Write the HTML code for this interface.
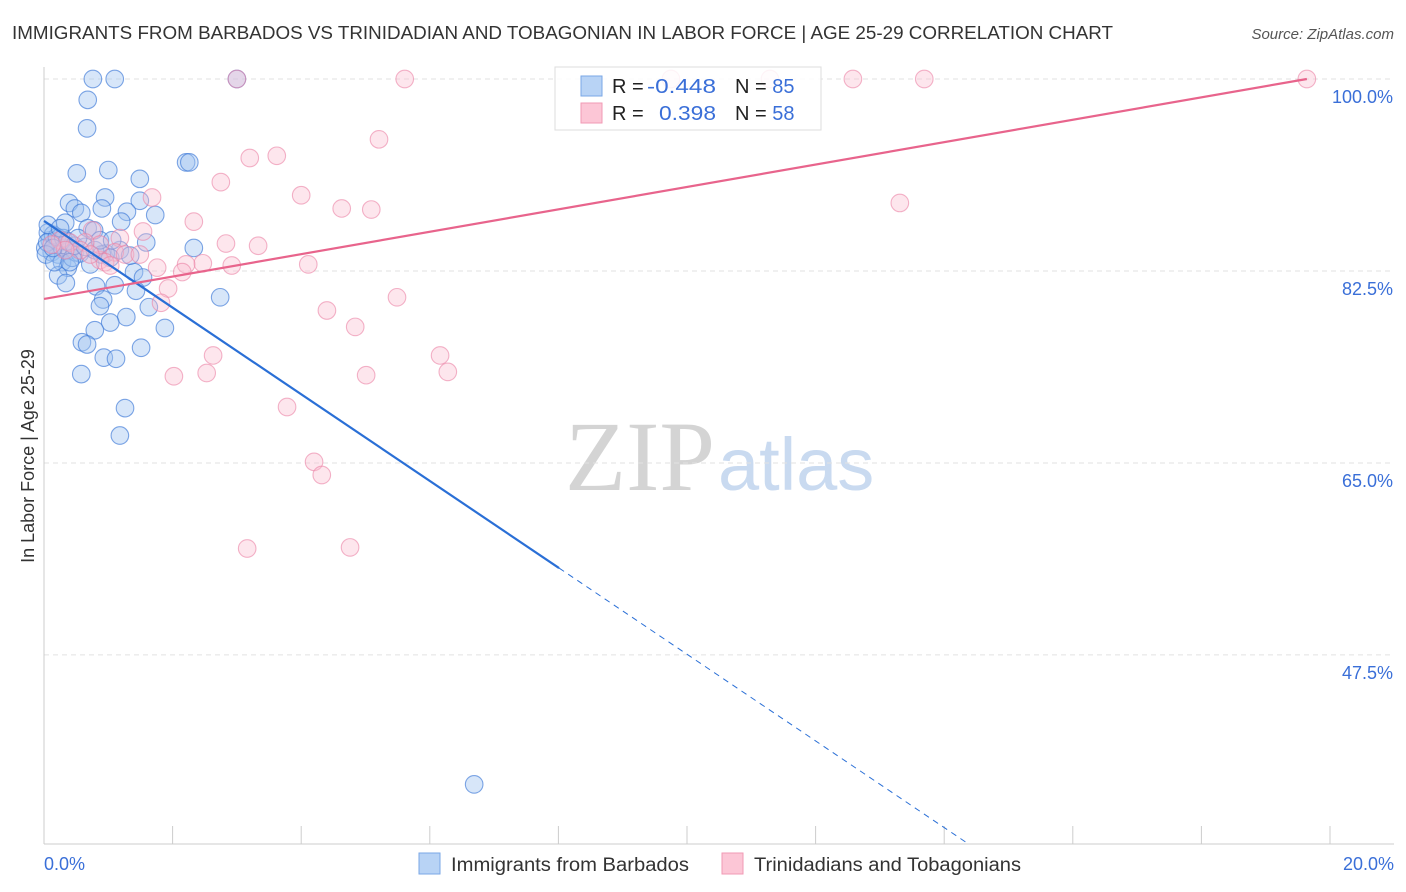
<!DOCTYPE html>
<html><head><meta charset="utf-8"><style>
body{margin:0;background:#fff;font-family:"Liberation Sans",sans-serif}
svg{display:block}
</style></head><body>
<svg id="chart" width="1406" height="892" font-family="Liberation Sans, sans-serif">
<text x="12" y="39" font-size="18" fill="#333" textLength="1101" lengthAdjust="spacingAndGlyphs">IMMIGRANTS FROM BARBADOS VS TRINIDADIAN AND TOBAGONIAN IN LABOR FORCE | AGE 25-29 CORRELATION CHART</text>
<text x="1394" y="39" font-size="15" fill="#555" font-style="italic" text-anchor="end">Source: ZipAtlas.com</text>
<text x="715" y="490" font-size="100" font-family="Liberation Serif, serif" fill="#d4d4d4" text-anchor="end">ZIP</text>
<text x="718" y="490" font-size="74" fill="#c9daf0">atlas</text>
<g id="grid"></g><g id="axes"></g><g id="pts"></g><g id="lines"></g>
<text transform="translate(34,456) rotate(-90)" font-size="18" fill="#333" text-anchor="middle">In Labor Force | Age 25-29</text>
<g>
<rect x="555" y="67" width="266" height="63" fill="#fff" fill-opacity="0.85" stroke="#ddd"/>
<rect x="581" y="76" width="21" height="20" fill="#b8d3f5" stroke="#7aa7e6"/>
<rect x="581" y="103" width="21" height="20" fill="#fcc6d6" stroke="#f19ab4"/>
<text x="612" y="93" font-size="20" fill="#222">R = <tspan fill="#3a6fd8" x="647" textLength="69" lengthAdjust="spacingAndGlyphs">-0.448</tspan></text>
<text x="735" y="93" font-size="20" fill="#222">N = <tspan fill="#3a6fd8">85</tspan></text>
<text x="612" y="120" font-size="20" fill="#222">R = <tspan fill="#3a6fd8" x="659" textLength="57" lengthAdjust="spacingAndGlyphs">0.398</tspan></text>
<text x="735" y="120" font-size="20" fill="#222">N = <tspan fill="#3a6fd8">58</tspan></text>
</g>
<g>
<rect x="419" y="853" width="21" height="21" fill="#b8d3f5" stroke="#7aa7e6"/>
<text x="451" y="871" font-size="19" fill="#333" textLength="238" lengthAdjust="spacingAndGlyphs">Immigrants from Barbados</text>
<rect x="722" y="853" width="21" height="21" fill="#fcc6d6" stroke="#f19ab4"/>
<text x="754" y="871" font-size="19" fill="#333" textLength="267" lengthAdjust="spacingAndGlyphs">Trinidadians and Tobagonians</text>
</g>
</svg>
<script>
const yTicks=[100,82.5,65,47.5];
const yTickLabels=["100.0%","82.5%","65.0%","47.5%"];
const xTicks=[0,2,4,6,8,10,12,14,16,18,20];
const xTickLabels=["0.0%","20.0%"];
const blueX=[0.76,1.10,3.00,0.68,0.67,0.51,1.00,1.49,2.21,2.26,0.95,1.49,0.39,0.48,0.90,1.29,1.73,1.20,0.58,0.33,0.68,0.78,1.59,2.33,1.18,0.96,0.09,0.17,0.25,0.12,0.22,0.33,0.40,0.48,0.56,0.28,0.37,0.72,0.44,0.22,0.34,1.40,1.54,0.81,1.10,1.43,2.74,0.92,0.87,1.63,1.28,1.03,1.88,0.79,0.59,0.67,1.51,0.93,1.12,0.58,1.26,1.18,6.69,0.06,0.02,0.14,0.05,0.20,0.30,0.36,0.47,0.64,0.79,0.90,0.03,0.16,0.40,1.03,0.06,0.25,0.53,0.87,1.34,1.06,0.14];
const blueY=[100,100,100,98.1,95.5,91.4,91.7,90.9,92.4,92.4,89.2,88.9,88.7,88.2,88.2,87.9,87.6,87.0,87.8,86.9,86.4,86.2,85.1,84.6,84.4,84.1,85.3,84.9,85.1,84.2,84.0,84.6,84.4,84.2,84.1,83.3,82.8,83.1,83.7,82.1,81.4,82.4,81.9,81.1,81.2,80.7,80.1,79.9,79.3,79.2,78.3,77.8,77.3,77.1,76.0,75.8,75.5,74.6,74.5,73.1,70.0,67.5,35.7,86.0,84.6,85.8,85.1,85.6,85.5,85.2,84.8,84.7,84.4,84.0,84.0,83.3,83.3,83.7,86.7,86.4,85.5,85.3,83.9,85.3,84.6];
const pinkX=[3.00,5.61,9.75,11.29,12.58,13.69,19.64,5.21,3.62,3.20,2.75,4.00,1.68,4.63,5.09,13.31,2.33,0.75,1.18,1.54,2.83,3.33,1.10,1.26,0.87,2.47,2.92,1.76,2.21,2.15,4.11,1.93,1.82,5.49,4.40,4.84,2.63,6.16,2.02,2.53,5.01,6.28,3.78,4.20,4.32,3.16,4.76,0.87,0.64,0.25,0.40,0.95,1.49,0.56,1.03,0.33,0.12,0.72];
const pinkY=[100,100,100,100,100,100,100,94.5,93.0,92.8,90.6,89.4,89.2,88.2,88.1,88.7,87.0,86.2,85.5,86.1,85.0,84.8,84.2,84.0,83.5,83.2,83.0,82.8,83.1,82.4,83.1,80.9,79.6,80.1,78.9,77.4,74.8,74.8,72.9,73.2,73.0,73.3,70.1,65.1,63.9,57.2,57.3,84.9,85.1,85.3,85.1,83.3,84.0,84.4,83.0,84.4,84.9,84.0];
const blueLine={x0:0,y0:87.06,slope:-3.95,solidEnd:8.01};
const pinkLine={x0:0,y0:79.95,x1:19.64,y1:100};
const NS="http://www.w3.org/2000/svg";
const sx=v=>44+v*64.3, sy=v=>79+(100-v)*10.97;
function mk(tag,attrs,parent){const e=document.createElementNS(NS,tag);for(const k in attrs)e.setAttribute(k,attrs[k]);document.getElementById(parent).appendChild(e);return e;}
yTicks.forEach((t,i)=>{
 const g=mk('line',{x1:44,x2:1394,y1:sy(t),y2:sy(t),stroke:'#e2e2e2','stroke-dasharray':'5,4'},'grid');
 
 
 const l=mk('text',{x:1393,y:sy(t)+24,'font-size':18,fill:'#3a6fd8','text-anchor':'end'},'axes');l.textContent=yTickLabels[i];
 
 
});
const ax=mk('line',{x1:44,x2:44,y1:67,y2:844,stroke:'#ccc'},'axes');


const bx=mk('line',{x1:44,x2:1394,y1:844,y2:844,stroke:'#ccc'},'axes');


xTicks.forEach(t=>{const k=mk('line',{x1:sx(t),x2:sx(t),y1:826,y2:844,stroke:'#ccc'},'axes');
 
 });
[[0,'start',44],[20,'end',1394]].forEach((d,i)=>{const l=mk('text',{x:d[2],y:870,'font-size':18,fill:'#3a6fd8','text-anchor':d[1]},'axes');l.textContent=xTickLabels[i];
 
 });
blueX.forEach((x,i)=>{const c=mk('circle',{cx:sx(x),cy:sy(blueY[i]),r:8.8,fill:'rgba(160,196,240,0.42)',stroke:'rgba(60,120,215,0.65)','stroke-width':1.1},'pts');
 
 });
pinkX.forEach((x,i)=>{const c=mk('circle',{cx:sx(x),cy:sy(pinkY[i]),r:8.8,fill:'rgba(250,190,208,0.38)',stroke:'rgba(235,130,165,0.6)','stroke-width':1.1},'pts');
 
 });
const bEndY=blueLine.y0+blueLine.slope*blueLine.solidEnd;
const bl=mk('line',{x1:sx(0),y1:sy(blueLine.y0),x2:sx(blueLine.solidEnd),y2:sy(bEndY),stroke:'#2a6fd6','stroke-width':2.2},'lines');


const xEnd=(blueLine.y0-(100-(844-79)/10.97))/-blueLine.slope;
const bd=mk('line',{x1:sx(blueLine.solidEnd),y1:sy(bEndY),x2:sx(xEnd),y2:844,stroke:'#2a6fd6','stroke-width':1,'stroke-dasharray':'6,5'},'lines');


const pl=mk('line',{x1:sx(pinkLine.x0),y1:sy(pinkLine.y0),x2:sx(pinkLine.x1),y2:sy(pinkLine.y1),stroke:'#e8648c','stroke-width':2.2},'lines');


</script>
</body></html>
